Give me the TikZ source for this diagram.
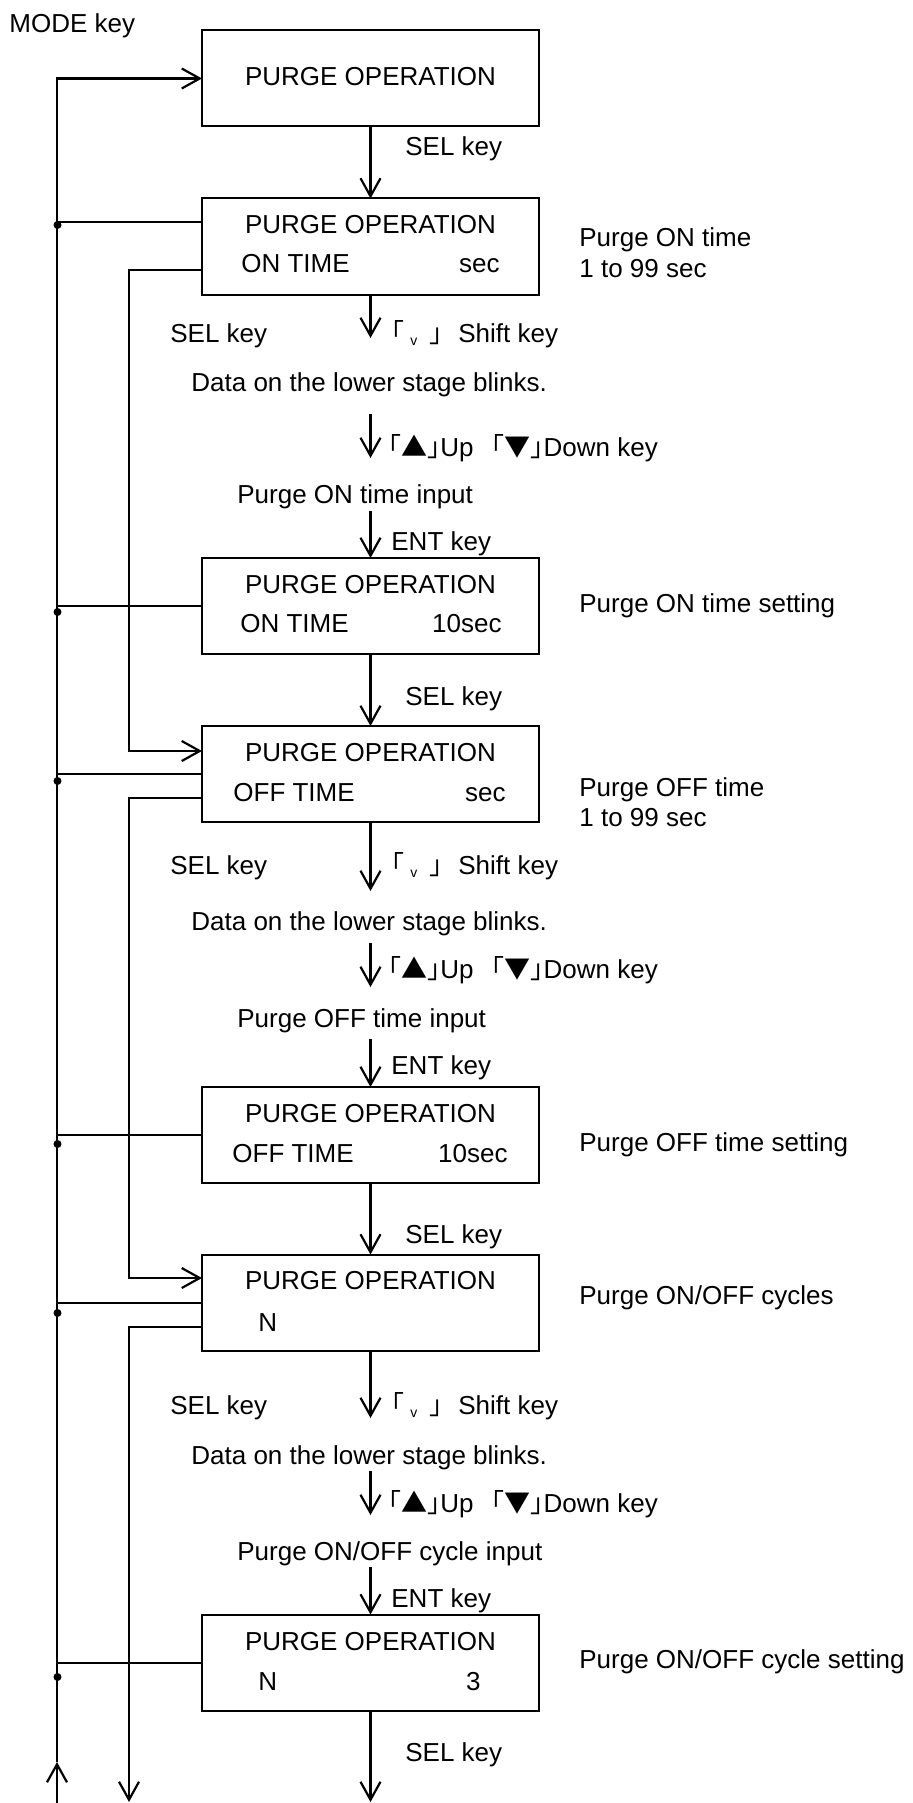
\documentclass[tikz,border=0pt]{standalone}
\usepackage{fontspec}
\setmainfont{Liberation Sans}
\newfontfamily\cjk{Noto Sans CJK JP}
\usetikzlibrary{arrows.meta}
\tikzset{
  every node/.style={font=\fontsize{13}{15}\selectfont},
  box/.style={draw, line width=1pt, minimum width=168.5pt, minimum height=48pt, inner sep=0pt, outer sep=0pt},
  txt/.style={inner sep=0pt, anchor=west, text height=9.3pt, text depth=0pt},
  txtc/.style={inner sep=0pt, anchor=center, text height=9.3pt, text depth=0pt},
  txte/.style={inner sep=0pt, anchor=east, text height=9.3pt, text depth=0pt},
  ln/.style={line width=1.1pt},
  arr/.style={line width=1.1pt, -{Straight Barb[length=9pt,width=10pt,line width=1.1pt]}},
  dotmark/.style={fill=black}
}
\newcommand{\shifttxt}{{\cjk ｢}\hspace{3pt}\raisebox{-1.5pt}{\fontsize{7}{7}\selectfont v}\hspace{6pt}{\cjk ｣}\hspace{8pt}Shift key}
\newcommand{\updowntxt}{{\cjk ｢▲｣}Up\hspace{9pt}{\cjk ｢▼｣}Down key}
\begin{document}
\begin{tikzpicture}[x=0.5pt,y=-0.5pt]
\useasboundingbox (0,0) rectangle (912,1803);

% boxes
\node[box] (B1) at (370.5,78.5) {};
\node[box] (B2) at (370.5,246.5) {};
\node[box] (B3) at (370.5,606) {};
\node[box] (B4) at (370.5,774) {};
\node[box] (B5) at (370.5,1135) {};
\node[box] (B6) at (370.5,1302.5) {};
\node[box] (B7) at (370.5,1662.5) {};

% box texts
\node[txtc] (t1) at (370.5,76) {PURGE OPERATION};
\node[txtc] (t2a) at (370.5,224) {PURGE OPERATION};
\node[txt]  (t2b) at (241,263) {ON TIME};
\node[txte] (t2c) at (500,263) {sec};
\node[txtc] (t3a) at (370.5,584) {PURGE OPERATION};
\node[txt]  (t3b) at (240,623) {ON TIME};
\node[txte] (t3c) at (502,623) {10sec};
\node[txtc] (t4a) at (370.5,752) {PURGE OPERATION};
\node[txt]  (t4b) at (233,792) {OFF TIME};
\node[txte] (t4c) at (506,792) {sec};
\node[txtc] (t5a) at (370.5,1113) {PURGE OPERATION};
\node[txt]  (t5b) at (232,1153) {OFF TIME};
\node[txte] (t5c) at (508,1153) {10sec};
\node[txtc] (t6a) at (370.5,1280) {PURGE OPERATION};
\node[txt]  (t6b) at (258,1322) {N};
\node[txtc] (t7a) at (370.5,1641) {PURGE OPERATION};
\node[txt]  (t7b) at (258,1681) {N};
\node[txte] (t7c) at (481,1681) {3};

% right notes
\node[txt] (n2a) at (579,237) {Purge ON time};
\node[txt] (n2b) at (579,268) {1 to 99 sec};
\node[txt] (n3) at (579,603) {Purge ON time setting};
\node[txt] (n4a) at (579,787) {Purge OFF time};
\node[txt] (n4b) at (579,817) {1 to 99 sec};
\node[txt] (n5) at (579,1142) {Purge OFF time setting};
\node[txt] (n6) at (579,1295) {Purge ON/OFF cycles};
\node[txt] (n7) at (579,1659) {Purge ON/OFF cycle setting};

% labels
\node[txt] (mode) at (9,23) {MODE key};
\node[txt] (sel1) at (405,146) {SEL key};
\node[txt] (sel2l) at (170,333) {SEL key};
\node[txt] (sh2) at (391,333) {\shifttxt};
\node[txt] (da2) at (191,382) {Data on the lower stage blinks.};
\node[txt] (ud2) at (388,447) {\updowntxt};
\node[txt] (in2) at (237,494) {Purge ON time input};
\node[txt] (ent2) at (391,541) {ENT key};
\node[txt] (sel3) at (405,696) {SEL key};
\node[txt] (sel4l) at (170,865) {SEL key};
\node[txt] (sh4) at (391,865) {\shifttxt};
\node[txt] (da4) at (191,921) {Data on the lower stage blinks.};
\node[txt] (ud4) at (388,969) {\updowntxt};
\node[txt] (in4) at (237,1018) {Purge OFF time input};
\node[txt] (ent4) at (391,1065) {ENT key};
\node[txt] (sel5) at (405,1234) {SEL key};
\node[txt] (sel6l) at (170,1405) {SEL key};
\node[txt] (sh6) at (391,1405) {\shifttxt};
\node[txt] (da6) at (191,1455) {Data on the lower stage blinks.};
\node[txt] (ud6) at (388,1503) {\updowntxt};
\node[txt] (in6) at (237,1551) {Purge ON/OFF cycle input};
\node[txt] (ent6) at (391,1598) {ENT key};
\node[txt] (sel7) at (405,1752) {SEL key};

% centre coordinates
\coordinate (s2) at (370.5,338);
\coordinate (u2a) at (370.5,414);
\coordinate (u2b) at (370.5,458);
\coordinate (e2a) at (370.5,511);
\coordinate (s4) at (370.5,891);
\coordinate (u4a) at (370.5,943);
\coordinate (u4b) at (370.5,987);
\coordinate (e4a) at (370.5,1039);
\coordinate (s6) at (370.5,1418);
\coordinate (u6a) at (370.5,1471);
\coordinate (u6b) at (370.5,1515);
\coordinate (e6a) at (370.5,1567);
\coordinate (cend) at (370.5,1802);

% centre arrows
\draw[arr] (B1.south) -- (B2.north);
\draw[arr] (B2.south) -- (s2);
\draw[arr] (u2a) -- (u2b);
\draw[arr] (e2a) -- (B3.north);
\draw[arr] (B3.south) -- (B4.north);
\draw[arr] (B4.south) -- (s4);
\draw[arr] (u4a) -- (u4b);
\draw[arr] (e4a) -- (B5.north);
\draw[arr] (B5.south) -- (B6.north);
\draw[arr] (B6.south) -- (s6);
\draw[arr] (u6a) -- (u6b);
\draw[arr] (e6a) -- (B7.north);
\draw[arr] (B7.south) -- (cend);

% left main loop (L1)
\coordinate (top1) at (57,78.5);
\coordinate (bot1) at (57,1762);
\coordinate (base1) at (57,1803);
\draw[arr] (bot1) -- (top1) -- (B1.west);
\draw[arr] (base1) -- (bot1);

\coordinate (j2) at (57,222);
\coordinate (j3) at (57,606);
\coordinate (j4) at (57,774);
\coordinate (j5) at (57,1135);
\coordinate (j6) at (57,1303);
\coordinate (j7) at (57,1663);
\draw[ln] (j2) -- (B2.west |- j2);
\draw[ln] (j3) -- (B3.west |- j3);
\draw[ln] (j4) -- (B4.west |- j4);
\draw[ln] (j5) -- (B5.west |- j5);
\draw[ln] (j6) -- (B6.west |- j6);
\draw[ln] (j7) -- (B7.west |- j7);

\coordinate (d2) at (57.5,225);
\coordinate (d3) at (57.5,612);
\coordinate (d4) at (57.5,781);
\coordinate (d5) at (57.5,1144);
\coordinate (d6) at (57.5,1313);
\coordinate (d7) at (57.5,1677);
\foreach \d in {d2,d3,d4,d5,d6,d7} \fill[dotmark] (\d) circle[radius=2pt];

% second line (L2)
\coordinate (k2) at (129,270);
\coordinate (k4in) at (129,751);
\coordinate (k4out) at (129,798);
\coordinate (k6in) at (129,1278);
\coordinate (k6out) at (129,1327);
\coordinate (kend) at (129,1802);
\draw[arr] (B2.west |- k2) -- (k2) -- (k4in) -- (B4.west |- k4in);
\draw[arr] (B4.west |- k4out) -- (k4out) -- (k6in) -- (B6.west |- k6in);
\draw[arr] (B6.west |- k6out) -- (k6out) -- (kend);
\end{tikzpicture}
\end{document}
